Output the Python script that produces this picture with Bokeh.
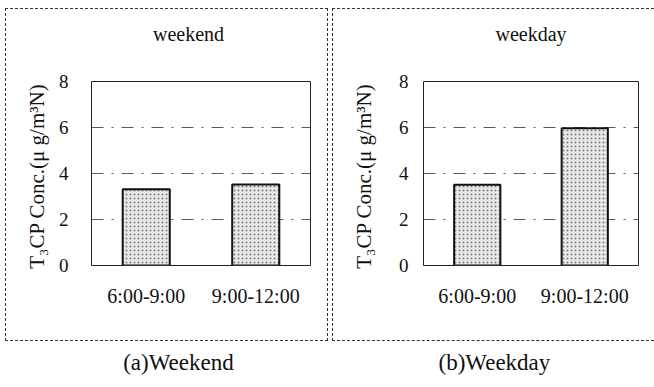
from bokeh.plotting import figure
from bokeh.models import (FixedTicker, Range1d, FactorRange, InlineStyleSheet,
                          CategoricalAxis)
from bokeh.layouts import row
from bokeh.embed import file_html
from bokeh.resources import INLINE

# ---- data ----
periods = ["6:00-9:00", "9:00-12:00"]
weekend_conc = [3.32, 3.52]
weekday_conc = [3.51, 5.97]
y_ticks = [0, 2, 4, 6, 8]
grid_ticks = [2, 4, 6]
panel_titles = ["weekend", "weekday"]
captions = ["(a)Weekend", "(b)Weekday"]
y_label = "T\u2083CP  Conc.(\u03bc g/m\u00b3N)"

FONT = "Liberation Serif"
H = 387
TOP = 81
FRAME_H = 184
BLANK = "\u00a0"


def text_axis(p, name, factors, pad, standoff, size, side):
    """An extra categorical axis used only to place one line of text."""
    p.extra_x_ranges[name] = FactorRange(*factors, range_padding=pad,
                                         range_padding_units="absolute")
    ax = CategoricalAxis(x_range_name=name, axis_line_color=None,
                         major_tick_line_color=None,
                         major_tick_in=0, major_tick_out=0,
                         major_label_standoff=standoff,
                         major_label_text_font=FONT,
                         major_label_text_font_size=size,
                         major_label_text_color="#111111")
    p.add_layout(ax, side)


def make_panel(values, title_factors, title_pad, cap_factors, cap_pad, width,
               bl, br, box_css, ylab_standoff, tick_standoff):
    css = InlineStyleSheet(css=(
        ":host { position: relative; }\n"
        ":host::after { content: ''; position: absolute; pointer-events: none; "
        "box-sizing: border-box; z-index: 10; " + box_css + " }"))
    p = figure(x_range=FactorRange(*periods, range_padding=0),
               y_range=Range1d(0, 8), width=width, height=H,
               output_backend="svg", toolbar_location=None,
               min_border_left=bl, min_border_right=br,
               min_border_top=TOP, min_border_bottom=H - TOP - FRAME_H,
               stylesheets=[css])
    p.vbar(x=periods, top=values, width=0.43, bottom=0,
           fill_color="#e8e8e8", line_color="#111111", line_width=2,
           hatch_pattern="dot", hatch_color="#666666", hatch_scale=4,
           hatch_alpha=0.8)

    p.outline_line_color = "#222222"
    p.outline_line_width = 1
    p.outline_line_alpha = 1

    p.xgrid.grid_line_color = None
    p.ygrid.ticker = FixedTicker(ticks=grid_ticks)
    p.ygrid.grid_line_color = "#5a5a5a"
    p.ygrid.grid_line_dash = "12 8 2 8"
    p.ygrid.grid_line_width = 1

    p.yaxis.ticker = FixedTicker(ticks=y_ticks)
    p.yaxis.axis_label = y_label
    p.yaxis.axis_label_text_font = FONT
    p.yaxis.axis_label_text_font_size = "21px"
    p.yaxis.axis_label_text_font_style = "normal"
    p.yaxis.axis_label_text_color = "#111111"
    p.yaxis.axis_label_standoff = ylab_standoff
    p.yaxis.major_label_text_font = FONT
    p.yaxis.major_label_text_font_size = "19px"
    p.yaxis.major_label_text_color = "#111111"
    p.yaxis.major_label_standoff = tick_standoff
    p.yaxis.major_tick_in = 0
    p.yaxis.major_tick_out = 0
    p.yaxis.minor_tick_line_color = None
    p.yaxis.axis_line_color = None

    p.xaxis.major_label_text_font = FONT
    p.xaxis.major_label_text_font_size = "20px"
    p.xaxis.major_label_text_color = "#111111"
    p.xaxis.major_label_standoff = 19
    p.xaxis.major_tick_in = 0
    p.xaxis.major_tick_out = 0
    p.xaxis.major_tick_line_color = None
    p.xaxis.axis_line_color = None

    p.extra_x_ranges = {}
    # panel heading above the frame, caption below the axis
    text_axis(p, "head", title_factors, title_pad, 37, "20px", "above")
    text_axis(p, "cap", cap_factors, cap_pad, 40, "23px", "below")
    return p


left = make_panel(weekend_conc, [panel_titles[0], BLANK], 3.39,
                  [captions[0], BLANK], 1.43, 329, 91, 19,
                  "left: 5px; top: 8px; width: 323px; height: 333px; "
                  "border: 1px dashed #333;",
                  7, 23)
right = make_panel(weekday_conc, [panel_titles[1]], 0,
                   [captions[1], BLANK], 0.47, 325, 94, 16,
                   "left: 3px; top: 8px; width: 322px; height: 333px; "
                   "border: 1px dashed #333; border-right: none;",
                   20, 15)

layout = row(left, right, spacing=0)
open("out.html", "w").write(file_html(layout, INLINE))
